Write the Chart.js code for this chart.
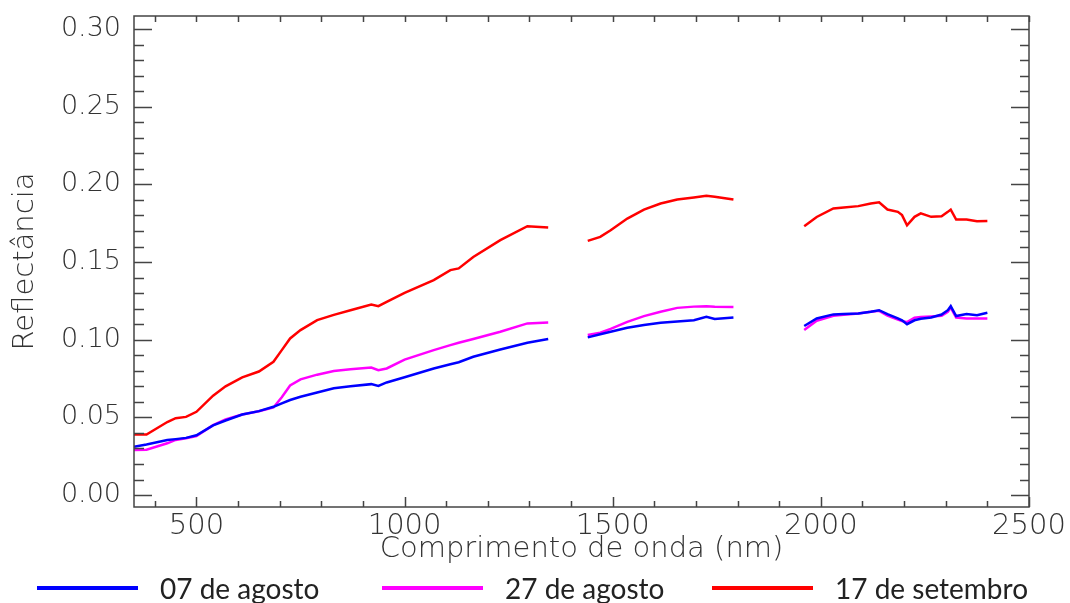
<!DOCTYPE html>
<html lang="pt">
<head>
    <meta charset="UTF-8">
    <title>Reflectância</title>
    <script src="https://cdn.jsdelivr.net/npm/chart.js"></script>
    <style>
        body {
            margin: 0;
            background: #fff;
        }
        .wrap {
            position: relative;
            width: 1070px;
            height: 603px;
        }
        .legend-item {
            position: absolute;
            top: 568px;
            height: 40px;
            display: flex;
            align-items: center;
            font-family: Lato, "Open Sans", sans-serif;
            font-size: 28px;
            color: #222;
            white-space: nowrap;
        }
        .legend-item .swatch {
            display: inline-block;
            width: 101px;
            height: 4px;
            margin-right: 22px;
        }
    </style>
</head>
<body>
<div class="wrap">
    <canvas id="chart" width="1070" height="603"></canvas>
    <div id="legend"></div>
</div>

<script>
    // wavelength (nm); null values break the curve at the water absorption bands
    const wavelength = [
        350, 380, 430, 450, 475, 500, 540, 570, 610, 650, 685, 705, 725, 750,
        790, 830, 870, 920, 937, 957, 1000, 1070, 1110, 1130, 1165, 1230, 1295, 1345,
        1390,
        1440, 1470, 1495, 1535, 1575, 1615, 1655, 1695, 1725, 1745, 1790,
        1875,
        1960, 1990, 2030, 2055, 2090, 2120, 2140, 2160, 2185, 2195, 2207, 2225,
        2240, 2265, 2290, 2305, 2312, 2325, 2350, 2375, 2400
    ];

    const ago07 = [
        0.0311, 0.0325, 0.0354, 0.0360, 0.0368, 0.0385, 0.0448, 0.0480, 0.0518, 0.0540, 0.0568, 0.0590, 0.0612, 0.0633,
        0.0660, 0.0687, 0.0700, 0.0714, 0.0703, 0.0725, 0.0758, 0.0815, 0.0842, 0.0855, 0.0890, 0.0937, 0.0980, 0.1004,
        null,
        0.1015, 0.1035, 0.1051, 0.1077, 0.1095, 0.1109, 0.1118, 0.1126, 0.1147, 0.1133, 0.1143,
        null,
        0.1088, 0.1137, 0.1163, 0.1165, 0.1169, 0.1180, 0.1190, 0.1165, 0.1138, 0.1125, 0.1100, 0.1125,
        0.1135, 0.1143, 0.1162, 0.1190, 0.1216, 0.1152, 0.1165, 0.1158, 0.1173
    ];

    const ago27 = [
        0.0290, 0.0292, 0.0333, 0.0355, 0.0365, 0.0380, 0.0450, 0.0487, 0.0518, 0.0540, 0.0564, 0.0630, 0.0705, 0.0745,
        0.0775, 0.0798, 0.0810, 0.0821, 0.0804, 0.0815, 0.0872, 0.0933, 0.0965, 0.0980, 0.1005, 0.1051, 0.1105, 0.1111,
        null,
        0.1030, 0.1045, 0.1070, 0.1115, 0.1152, 0.1180, 0.1205, 0.1213, 0.1216, 0.1212, 0.1210,
        null,
        0.1062, 0.1122, 0.1154, 0.1160, 0.1169, 0.1180, 0.1186, 0.1155, 0.1130, 0.1120, 0.1113, 0.1142,
        0.1147, 0.1150, 0.1154, 0.1180, 0.1207, 0.1143, 0.1137, 0.1137, 0.1137
    ];

    const set17 = [
        0.0390, 0.0390, 0.0470, 0.0495, 0.0503, 0.0536, 0.0640, 0.0700, 0.0758, 0.0795, 0.0858, 0.0933, 0.1008, 0.1062,
        0.1126, 0.1160, 0.1190, 0.1227, 0.1216, 0.1244, 0.1302, 0.1384, 0.1448, 0.1459, 0.1533, 0.1641, 0.1731, 0.1723,
        null,
        0.1636, 0.1662, 0.1705, 0.1780, 0.1838, 0.1877, 0.1903, 0.1916, 0.1926, 0.1921, 0.1903,
        null,
        0.1731, 0.1790, 0.1845, 0.1851, 0.1860, 0.1877, 0.1885, 0.1838, 0.1823, 0.1802, 0.1737, 0.1791,
        0.1813, 0.1791, 0.1795, 0.1823, 0.1838, 0.1774, 0.1774, 0.1763, 0.1765
    ];

    const seriesNames = ['07 de agosto', '27 de agosto', '17 de setembro'];
    const seriesColors = ['#0000ff', '#ff00ff', '#ff0000'];
    const seriesValues = [ago07, ago27, set17];

    const xTicks = [500, 1000, 1500, 2000, 2500];
    const yTicks = [0.00, 0.05, 0.10, 0.15, 0.20, 0.25, 0.30];

    const thinFont = size => ({ family: '"DejaVu Sans", sans-serif', size: size, weight: 200 });

    // inward ticks on all four sides plus the box
    const frame = {
        id: 'frame',
        afterDatasetsDraw(chart) {
            const { ctx, chartArea: a, scales: { x, y } } = chart;
            ctx.save();
            ctx.strokeStyle = '#444';
            ctx.lineWidth = 1.5;
            ctx.strokeRect(a.left, a.top, a.right - a.left, a.bottom - a.top);
            ctx.beginPath();
            for (let v = 400; v <= 2500; v += 100) {
                const px = Math.round(x.getPixelForValue(v)) + 0.5;
                const major = v % 500 === 0;
                ctx.moveTo(px, a.bottom);
                ctx.lineTo(px, a.bottom - (major ? 10 : 6));
                ctx.moveTo(px, a.top);
                ctx.lineTo(px, a.top + 6);
            }
            for (let i = 0; i <= 30; i++) {
                const py = Math.round(y.getPixelForValue(i / 100)) + 0.5;
                const major = i % 5 === 0;
                ctx.moveTo(a.left, py);
                ctx.lineTo(a.left + (major ? 18 : 10), py);
                ctx.moveTo(a.right, py);
                ctx.lineTo(a.right - (major ? 18 : 9), py);
            }
            ctx.stroke();
            ctx.restore();
        }
    };

    new Chart(document.getElementById('chart'), {
        type: 'line',
        data: {
            datasets: seriesValues.map((vals, i) => ({
                label: seriesNames[i],
                data: wavelength.map((w, j) => ({ x: w, y: vals[j] })),
                borderColor: seriesColors[i],
                borderWidth: 2.5,
                pointRadius: 0,
                tension: 0,
                spanGaps: false,
                order: i
            }))
        },
        options: {
            responsive: false,
            animation: false,
            layout: { padding: { top: 16, right: 41, left: 0, bottom: 0 } },
            plugins: {
                legend: { display: false },
                tooltip: { enabled: false }
            },
            scales: {
                x: {
                    type: 'linear',
                    min: 350,
                    max: 2500,
                    afterFit: s => { s.height = 96; s.paddingLeft = 0; s.paddingRight = 0; },
                    afterBuildTicks: s => { s.ticks = xTicks.map(v => ({ value: v })); },
                    grid: { display: false, drawTicks: false },
                    border: { display: false },
                    ticks: {
                        font: thinFont(29),
                        color: '#333',
                        padding: 2,
                        maxRotation: 0,
                        autoSkip: false,
                        callback: v => String(v)
                    },
                    title: {
                        display: true,
                        text: 'Comprimento de onda (nm)',
                        font: thinFont(29),
                        color: '#333',
                        padding: { top: 0, bottom: 36 }
                    }
                },
                y: {
                    min: -0.0077,
                    max: 0.3084,
                    afterFit: s => { s.width = 134; s.paddingTop = 0; s.paddingBottom = 0; },
                    afterBuildTicks: s => { s.ticks = yTicks.map(v => ({ value: v })); },
                    grid: { display: false, drawTicks: false },
                    border: { display: false },
                    ticks: {
                        font: thinFont(27),
                        color: '#333',
                        padding: 13,
                        callback: v => v.toFixed(2)
                    },
                    title: {
                        display: true,
                        text: 'Reflectância',
                        font: thinFont(29),
                        color: '#333',
                        padding: { top: 8, bottom: 0 }
                    }
                }
            }
        },
        plugins: [frame]
    });

    // legend row under the axis
    const legendLeft = [37, 382, 712];
    const legend = document.getElementById('legend');
    seriesNames.forEach((name, i) => {
        const item = document.createElement('div');
        item.className = 'legend-item';
        item.style.left = legendLeft[i] + 'px';
        item.innerHTML = `<span class="swatch" style="background:${seriesColors[i]}"></span><span>${name}</span>`;
        legend.appendChild(item);
    });
</script>
</body>
</html>
